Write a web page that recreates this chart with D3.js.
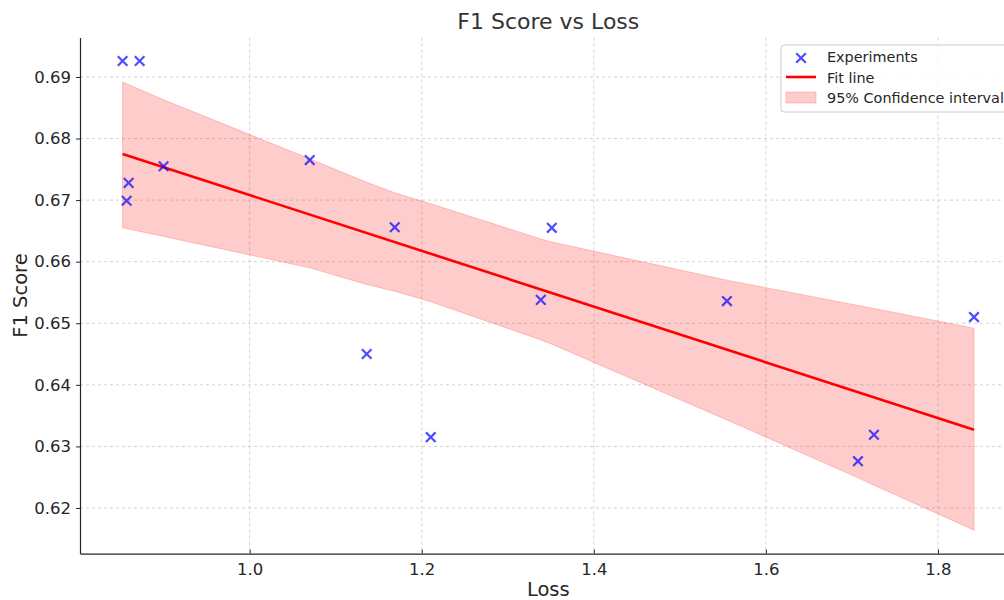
<!DOCTYPE html>
<html>
<head>
<meta charset="utf-8">
<script src="https://cdn.jsdelivr.net/npm/d3@7"></script>
<style>
  body { margin: 0; background: #fff; }
  svg { display: block; font-family: "DejaVu Sans", sans-serif; }
</style>
</head>
<body>
<script>
// experiments
var loss = [0.8523, 0.8721, 0.8593, 0.8570, 0.9000, 1.0698, 1.1360, 1.1686,
            1.2105, 1.3384, 1.3512, 1.5547, 1.7070, 1.7256, 1.8419];
var f1 = [0.6926, 0.6926, 0.6728, 0.6699, 0.6755, 0.6765, 0.6450, 0.6656,
          0.6315, 0.6538, 0.6655, 0.6536, 0.6276, 0.6319, 0.6510];

// fit line end points
var fitLoss = [0.8523, 1.8419];
var fitF1 = [0.6775, 0.6327];

// confidence band, at the sorted loss values
var bandLoss = [0.8523, 0.9000, 1.0698, 1.1360, 1.1686, 1.2105, 1.3384, 1.3512,
                1.5547, 1.7070, 1.7256, 1.8419];
var bandUpper = [0.6892, 0.6863, 0.6767, 0.6729, 0.6712, 0.6694, 0.6637, 0.6632,
                 0.6570, 0.6529, 0.6524, 0.6492];
var bandLower = [0.6655, 0.6641, 0.6590, 0.6563, 0.6552, 0.6535, 0.6473, 0.6466,
                 0.6343, 0.6249, 0.6237, 0.6164];

var xTicks = [1.0, 1.2, 1.4, 1.6, 1.8];
var yTicks = [0.62, 0.63, 0.64, 0.65, 0.66, 0.67, 0.68, 0.69];

var width = 1004, height = 600;
var mLeft = 80, mRight = 1016.6, mTop = 37.5, mBottom = 553.6;

var x = d3.scaleLinear().domain([0.8028, 1.8914]).range([mLeft, mRight]);
var y = d3.scaleLinear().domain([0.61259, 0.69641]).range([mBottom, mTop]);

var svg = d3.select("body").append("svg")
    .attr("width", width)
    .attr("height", height);

// grid
var grid = svg.append("g")
    .attr("stroke", "#b0b0b0")
    .attr("stroke-opacity", 0.7)
    .attr("stroke-width", 0.8)
    .attr("stroke-dasharray", "3,3");
grid.selectAll(".gx").data(xTicks).join("line")
    .attr("x1", d => x(d)).attr("x2", d => x(d))
    .attr("y1", mTop).attr("y2", mBottom);
grid.selectAll(".gy").data(yTicks).join("line")
    .attr("x1", mLeft).attr("x2", mRight)
    .attr("y1", d => y(d)).attr("y2", d => y(d));

// confidence band
var pts = bandLoss.map((d, i) => ({ x: d, hi: bandUpper[i], lo: bandLower[i] }));
var area = d3.area()
    .x(d => x(d.x))
    .y0(d => y(d.lo))
    .y1(d => y(d.hi));
svg.append("path")
    .datum(pts)
    .attr("d", area)
    .attr("fill", "red")
    .attr("fill-opacity", 0.2)
    .attr("stroke", "red")
    .attr("stroke-opacity", 0.2)
    .attr("stroke-width", 1);

// fit line
svg.append("line")
    .attr("x1", x(fitLoss[0])).attr("y1", y(fitF1[0]))
    .attr("x2", x(fitLoss[1])).attr("y2", y(fitF1[1]))
    .attr("stroke", "red")
    .attr("stroke-width", 2.6);

// x markers
var s = 4.8;
function cross(sel) {
    sel.append("path")
        .attr("d", `M${-s},${-s}L${s},${s}M${-s},${s}L${s},${-s}`)
        .attr("stroke", "blue")
        .attr("stroke-opacity", 0.7)
        .attr("stroke-width", 2.2);
}
svg.append("g").selectAll("g")
    .data(loss.map((d, i) => [d, f1[i]]))
    .join("g")
    .attr("transform", d => `translate(${x(d[0])},${y(d[1])})`)
    .call(cross);

// axes
var xAxis = svg.append("g")
    .attr("transform", `translate(0,${mBottom})`)
    .call(d3.axisBottom(x).tickValues(xTicks).tickFormat(d3.format(".1f"))
        .tickSizeInner(-4).tickSizeOuter(0).tickPadding(10));
var yAxis = svg.append("g")
    .attr("transform", `translate(${mLeft},0)`)
    .call(d3.axisLeft(y).tickValues(yTicks).tickFormat(d3.format(".2f"))
        .tickSizeInner(4).tickSizeOuter(0).tickPadding(5));
[xAxis, yAxis].forEach(a => {
    a.attr("font-size", null).attr("font-family", null);
    a.select(".domain").attr("stroke", "#262626").attr("stroke-width", 1.2);
    a.selectAll(".tick line").attr("stroke", "#262626");
    a.selectAll("text").attr("fill", "#262626")
        .attr("font-size", 16.5);
});

// titles
svg.append("text")
    .attr("x", (mLeft + mRight) / 2).attr("y", 29)
    .attr("text-anchor", "middle")
    .attr("font-size", 22).attr("fill", "#333")
    .text("F1 Score vs Loss");
svg.append("text")
    .attr("x", (mLeft + mRight) / 2).attr("y", 596)
    .attr("text-anchor", "middle")
    .attr("font-size", 19.5).attr("fill", "#262626")
    .text("Loss");
svg.append("text")
    .attr("transform", `translate(27,${(mTop + mBottom) / 2}) rotate(-90)`)
    .attr("text-anchor", "middle")
    .attr("font-size", 19.5).attr("fill", "#262626")
    .text("F1 Score");

// legend
var lg = svg.append("g").attr("transform", "translate(781,45)");
lg.append("rect")
    .attr("width", 245).attr("height", 67).attr("rx", 3)
    .attr("fill", "#fff").attr("fill-opacity", 0.8)
    .attr("stroke", "#cccccc").attr("stroke-width", 1);
lg.append("g").attr("transform", "translate(20,13)").call(cross);
lg.append("line")
    .attr("x1", 5).attr("x2", 35).attr("y1", 32).attr("y2", 32)
    .attr("stroke", "red").attr("stroke-width", 2.6);
lg.append("rect")
    .attr("x", 5).attr("y", 47).attr("width", 30).attr("height", 11)
    .attr("fill", "red").attr("fill-opacity", 0.2)
    .attr("stroke", "red").attr("stroke-opacity", 0.2);
lg.selectAll("text.l")
    .data(["Experiments", "Fit line", "95% Confidence interval"])
    .join("text")
    .attr("x", 46).attr("y", (d, i) => 12 + i * 20.5)
    .attr("dy", "0.35em")
    .attr("font-size", 14.4).attr("fill", "#262626")
    .text(d => d);
</script>
</body>
</html>
